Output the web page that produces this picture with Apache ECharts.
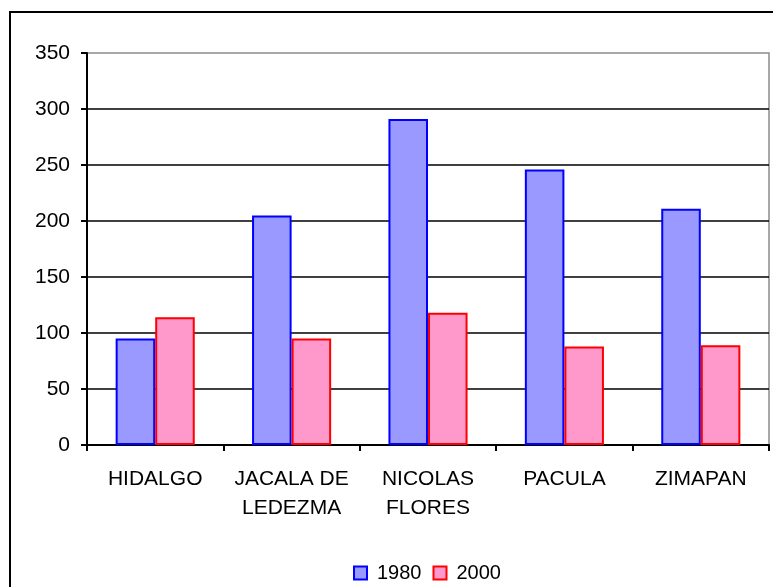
<!DOCTYPE html>
<html>
<head>
<meta charset="utf-8">
<script src="https://cdn.jsdelivr.net/npm/echarts@6/dist/echarts.min.js"></script>
<style>
html,body{margin:0;padding:0;background:#fff;}
#chart{width:773px;height:587px;}
</style>
</head>
<body>
<div id="chart"></div>
<script>
const categories = ['HIDALGO', 'JACALA DE\nLEDEZMA', 'NICOLAS\nFLORES', 'PACULA', 'ZIMAPAN'];
const values1980 = [95, 205, 291, 246, 211];
const values2000 = [114, 95, 118, 88, 89];
const seriesNames = ['1980', '2000'];
const yTicks = { min: 0, max: 350, interval: 50 };

const chart = echarts.init(document.getElementById('chart'), null, { renderer: 'canvas' });
const font = 'Liberation Sans, Arial, sans-serif';
chart.setOption({
  animation: false,
  backgroundColor: '#ffffff',
  textStyle: { fontFamily: font },
  graphic: [{
    type: 'rect',
    shape: { x: 10, y: 12, width: 820, height: 640 },
    style: { fill: 'none', stroke: '#000', lineWidth: 2 },
    silent: true
  }],
  grid: {
    left: 87, right: 4, top: 53, bottom: 142,
    show: true, borderColor: '#8c8c8c', borderWidth: 1.5, backgroundColor: 'transparent'
  },
  legend: {
    data: seriesNames,
    left: 348, top: 558,
    itemWidth: 13, itemHeight: 13, itemGap: 11,
    icon: 'rect',
    textStyle: { fontSize: 20, color: '#000', fontFamily: font, padding: [0, 0, 0, 5] }
  },
  xAxis: {
    type: 'category',
    data: categories,
    axisLine: { lineStyle: { color: '#000', width: 2 } },
    axisTick: { show: true, length: 6, lineStyle: { color: '#000', width: 2 } },
    axisLabel: { color: '#000', fontSize: 21, fontFamily: font, margin: 20, lineHeight: 29, interval: 0 },
    splitLine: { show: false }
  },
  yAxis: {
    type: 'value',
    min: yTicks.min, max: yTicks.max, interval: yTicks.interval,
    axisLine: { show: true, lineStyle: { color: '#000', width: 2 } },
    axisTick: { show: true, length: 6, lineStyle: { color: '#000', width: 2 } },
    axisLabel: { color: '#000', fontSize: 21, fontFamily: font, margin: 17 },
    splitLine: { show: true, showMaxLine: false, lineStyle: { color: '#000', width: 1.5 } }
  },
  series: [{
    name: seriesNames[0],
    type: 'bar',
    data: values1980,
    barGap: '0%',
    barCategoryGap: '42%',
    itemStyle: { color: '#9999ff', borderColor: '#0000ff', borderWidth: 2 }
  }, {
    name: seriesNames[1],
    type: 'bar',
    data: values2000,
    barGap: '0%',
    barCategoryGap: '42%',
    itemStyle: { color: '#ff99cc', borderColor: '#ff0000', borderWidth: 2 }
  }]
});
</script>
</body>
</html>
